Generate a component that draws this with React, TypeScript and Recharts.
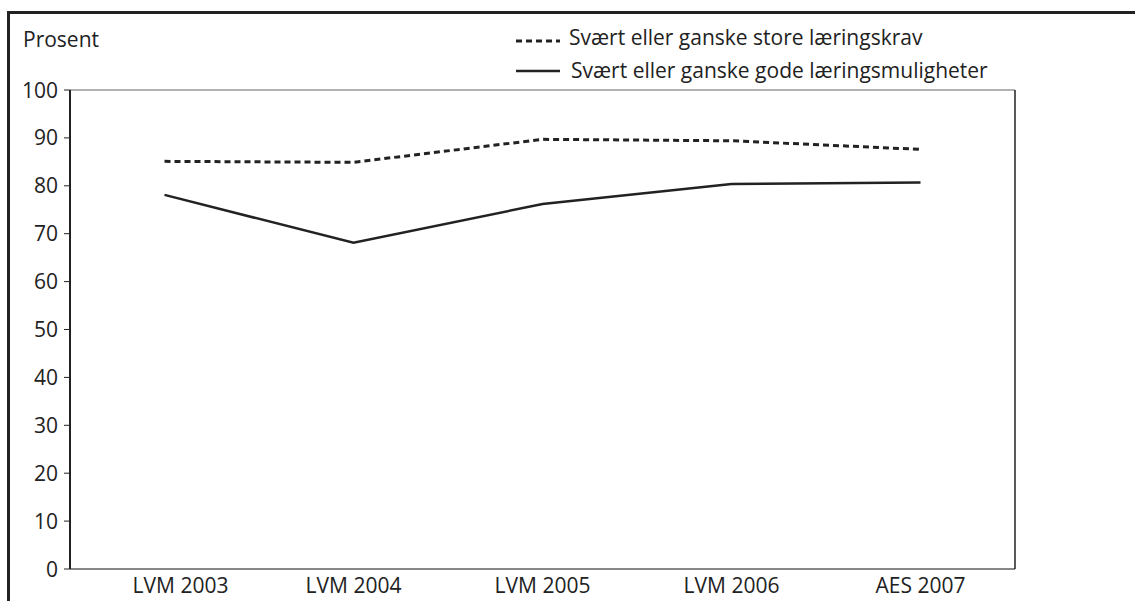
import React from 'react';
import { LineChart, Line, XAxis, YAxis, CartesianGrid } from 'recharts';

const categories = ['LVM 2003', 'LVM 2004', 'LVM 2005', 'LVM 2006', 'AES 2007'];
const kravValues = [85.1, 84.9, 89.7, 89.4, 87.6];
const mulighetValues = [78.1, 68.1, 76.2, 80.4, 80.7];
const yTicks = [0, 10, 20, 30, 40, 50, 60, 70, 80, 90, 100];
const seriesNames = ['Svært eller ganske store læringskrav', 'Svært eller ganske gode læringsmuligheter'];
const yLabel = 'Prosent';

const data = categories.map((name, i) => ({
  name,
  krav: kravValues[i],
  muligheter: mulighetValues[i],
}));

const FONT = '"Open Sans", "Noto Sans", sans-serif';
const INK = '#222';
const FS = 21;

function CategoryTick(props: any) {
  const { x, y, payload, index } = props;
  // first label sits a bit to the right of its point in the original
  const shift = index === 0 ? 16 : 0;
  return (
    <text x={x + shift} y={y} dy="0.71em" textAnchor="middle" fontSize={FS} fill={INK} fontFamily={FONT}>
      {payload.value}
    </text>
  );
}

function ValueTick(props: any) {
  const { x, y, payload } = props;
  return (
    <text x={x} y={y} dy="0.36em" textAnchor="end" fontSize={FS} fill={INK} fontFamily={FONT}>
      {payload.value}
    </text>
  );
}

export default function App() {
  return (
    <div style={{ position: 'absolute', left: 0, top: 0, width: 1135, height: 601, overflow: 'hidden', background: '#fff', fontFamily: FONT }}>
      {/* outer frame, runs off the right and bottom edges */}
      <div style={{ position: 'absolute', left: 7, top: 11, width: 1300, height: 800, borderLeft: `3px solid ${INK}`, borderTop: `3px solid ${INK}` }} />

      <div style={{ position: 'absolute', left: 23, top: 25, fontSize: FS, color: INK }}>{yLabel}</div>

      {/* legend */}
      <div style={{ position: 'absolute', left: 516, top: 21, fontSize: FS, color: INK, lineHeight: '33px' }}>
        {seriesNames.map((s, i) => (
          <div key={s} style={{ display: 'flex', alignItems: 'center' }}>
            <svg width={50} height={33}>
              <line x1={0} x2={44} y1={i === 0 ? 20 : 17} y2={i === 0 ? 20 : 17} stroke={INK} strokeWidth={i === 0 ? 3 : 2.5} strokeDasharray={i === 0 ? '6 4' : undefined} />
            </svg>
            <span style={{ marginLeft: i === 0 ? 3 : 5 }}>{s}</span>
          </div>
        ))}
      </div>

      <div style={{ position: 'absolute', left: 0, top: 0 }}>
        <LineChart width={1135} height={601} data={data} margin={{ top: 90, right: 0, bottom: 0, left: 0 }}>
          <CartesianGrid vertical={false} stroke="#666" strokeWidth={1.2} />
          <XAxis
            dataKey="name"
            scale="band"
            height={32}
            tickLine={false}
            tickSize={0}
            tickMargin={9}
            axisLine={{ stroke: '#888', strokeWidth: 2 }}
            tick={<CategoryTick />}
            interval={0}
          />
          <YAxis
            yAxisId="left"
            domain={[0, 100]}
            ticks={yTicks}
            width={70}
            tickSize={6}
            tickMargin={6}
            tickLine={{ stroke: INK }}
            axisLine={{ stroke: INK, strokeWidth: 2 }}
            tick={<ValueTick />}
            interval={0}
          />
          <YAxis
            yAxisId="right"
            orientation="right"
            domain={[0, 100]}
            width={120}
            tick={false}
            tickLine={false}
            axisLine={{ stroke: INK, strokeWidth: 1.5 }}
          />
          <Line
            yAxisId="left"
            type="linear"
            dataKey="krav"
            name={seriesNames[0]}
            stroke={INK}
            strokeWidth={3}
            strokeDasharray="6 4"
            dot={false}
            isAnimationActive={false}
          />
          <Line
            yAxisId="left"
            type="linear"
            dataKey="muligheter"
            name={seriesNames[1]}
            stroke={INK}
            strokeWidth={2.5}
            dot={false}
            isAnimationActive={false}
          />
        </LineChart>
      </div>
    </div>
  );
}
